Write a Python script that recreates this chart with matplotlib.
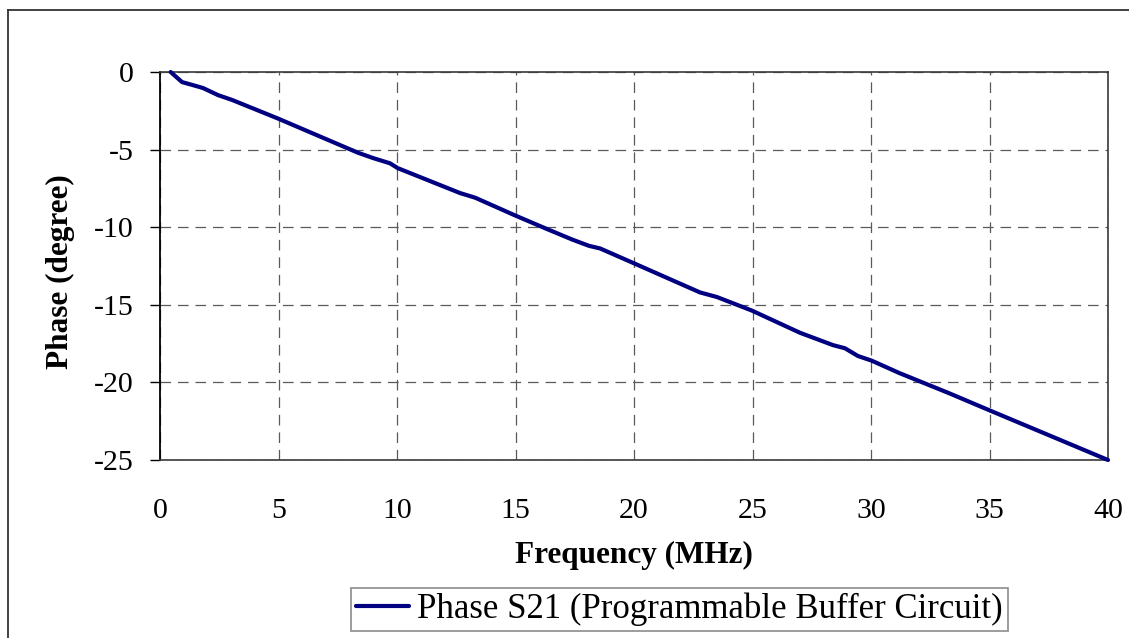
import matplotlib
matplotlib.use("Agg")
import matplotlib.pyplot as plt
from matplotlib.lines import Line2D

# Measured S21 phase of the programmable buffer circuit
freq_mhz = [0.45, 0.93, 1.4, 1.81, 2.45, 3.04, 4.98, 8.35, 9.0, 9.7, 10.04,
            12.66, 13.3, 14.98, 16.3, 17.4, 18.1, 18.57, 19.96, 22.78, 23.5,
            24.97, 27.0, 28.4, 28.9, 29.45, 30.03, 31.2, 33.3, 35.0, 40.0]
phase_deg = [0.0, -0.65, -0.85, -1.03, -1.49, -1.8, -3.0, -5.2, -5.55, -5.88, -6.2,
             -7.8, -8.1, -9.24, -10.1, -10.8, -11.2, -11.37, -12.3, -14.2, -14.5,
             -15.37, -16.8, -17.6, -17.8, -18.3, -18.6, -19.4, -20.7, -21.8, -25.0]

x_ticks = [0, 5, 10, 15, 20, 25, 30, 35, 40]
y_ticks = [0, -5, -10, -15, -20, -25]
series_label = "Phase S21 (Programmable Buffer Circuit)"
x_label = "Frequency (MHz)"
y_label = "Phase (degree)"

W, H = 1129, 638
plt.rcParams['font.family'] = ['Liberation Serif', 'DejaVu Serif']

fig = plt.figure(figsize=(W / 100, H / 100), dpi=100)
fig.patch.set_facecolor('white')

# outer chart frame (top and left edges visible)
fig.add_artist(Line2D([8 / W, 1.0], [1 - 10 / H, 1 - 10 / H], color='#333333', lw=1.3,
                      transform=fig.transFigure))
fig.add_artist(Line2D([8 / W, 8 / W], [1 - 10 / H, 0.0], color='#333333', lw=1.3,
                      transform=fig.transFigure))

ax = fig.add_axes([160 / W, (H - 460) / H, 948 / W, 388 / H])
ax.plot(freq_mhz, phase_deg, color='#000080', lw=3.0, solid_joinstyle='round',
        solid_capstyle='round', label=series_label, clip_on=False, zorder=3)

ax.set_xlim(0, 40)
ax.set_ylim(-25, 0)
ax.set_xticks(x_ticks)
ax.set_yticks(y_ticks)
ax.set_xticklabels([str(v) for v in x_ticks])
ax.set_yticklabels([str(v) for v in y_ticks])

ax.grid(True, color='#5a5a5a', lw=0.9, ls=(0, (8.5, 5.5)))
ax.set_axisbelow(True)

ax.tick_params(axis='x', length=0, pad=27, labelsize=21.5)
ax.tick_params(axis='y', direction='out', length=7.2, width=1.0, pad=12, labelsize=21.5,
               color='black')

for side in ['top', 'right', 'bottom']:
    ax.spines[side].set_color('#3a3a3a')
    ax.spines[side].set_linewidth(1.2)
ax.spines['left'].set_color('black')
ax.spines['left'].set_linewidth(1.3)

ax.set_xlabel(x_label, fontsize=22.5, fontweight='bold')
ax.set_ylabel(y_label, fontsize=22.5, fontweight='bold')
ax.xaxis.set_label_coords(0.5, -0.245)
ax.xaxis.label.set_va('center')
ax.yaxis.set_label_coords(-0.105, 0.485)
ax.yaxis.label.set_va('center')
ax.yaxis.label.set_ha('center')

leg = fig.legend(loc='center', bbox_to_anchor=(679.5 / W, 1 - 609.5 / H),
                 fontsize=25, frameon=True, fancybox=False, handlelength=1.5,
                 handletextpad=0.24, borderpad=0.15, borderaxespad=0)
leg.get_frame().set_edgecolor('#7a7a7a')
leg.get_frame().set_linewidth(1.3)

fig.savefig('out.png', dpi=100, facecolor='white')
